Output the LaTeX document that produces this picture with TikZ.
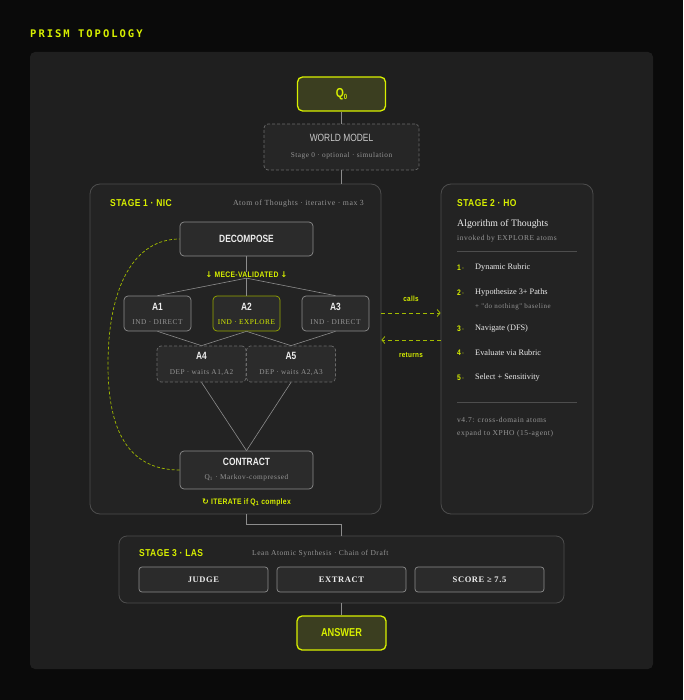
\documentclass[tikz,border=0pt]{standalone}
\usepackage{fontspec}
\setmainfont{Liberation Serif}
\newfontfamily\condfont[FakeStretch=0.8]{Liberation Sans}
\newfontfamily\headfont[FakeStretch=0.85,LetterSpace=4]{Liberation Sans}
\newfontfamily\titlefont[LetterSpace=19]{DejaVu Sans Mono}
\newfontfamily\spacedfont[LetterSpace=7]{Liberation Serif}
\newfontfamily\symbolfont{DejaVu Sans}
\usetikzlibrary{arrows.meta}

\definecolor{bgblack}{HTML}{0A0A0A}
\definecolor{panel}{HTML}{1F1F1F}
\definecolor{stagefill}{HTML}{232323}
\definecolor{stageline}{HTML}{4D4D4D}
\definecolor{boxfill}{HTML}{2B2B2B}
\definecolor{worldfill}{HTML}{262626}
\definecolor{boxline}{HTML}{8C8C8C}
\definecolor{dimline}{HTML}{6A6A6A}
\definecolor{acid}{HTML}{D8F000}
\definecolor{olive}{HTML}{3B3E20}
\definecolor{loopyellow}{HTML}{A3BC00}
\definecolor{textgray}{HTML}{959595}
\definecolor{textwhite}{HTML}{EDEDED}

\newcommand\boxtitle{\condfont\bfseries\fontsize{10.5}{12}\selectfont\color{textwhite}}
\newcommand\atomsub{\spacedfont\fontsize{7.3}{8}\selectfont\color{textgray}}

\begin{document}
\begin{tikzpicture}[x=1pt,y=-1pt,
    every node/.style={inner sep=0pt},
    box/.style={draw=boxline, fill=boxfill, rounded corners=4pt, line width=0.7pt, align=center},
    dashbox/.style={box, draw=dimline, dash pattern=on 3pt off 2pt},
    stage/.style={draw=stageline, fill=stagefill, rounded corners=10pt, line width=0.8pt},
    endbox/.style={draw=acid, fill=olive, rounded corners=5pt, line width=1.3pt, text=acid,
      font=\condfont\bfseries\fontsize{13}{13}\selectfont},
    stagehead/.style={anchor=west, text=acid, font=\headfont\bfseries\fontsize{10}{10}\selectfont},
    note/.style={text=textgray, font=\spacedfont\fontsize{7.5}{8}\selectfont},
    acidtext/.style={text=acid, font=\headfont\bfseries\fontsize{8}{9}\selectfont},
    itemtext/.style={anchor=west, text=textwhite, font=\fontsize{8.3}{9}\selectfont},
    button/.style={draw=boxline, fill=boxfill, rounded corners=3pt, line width=0.7pt,
      minimum width=129, minimum height=25, text=textwhite,
      font=\spacedfont\bfseries\fontsize{8.5}{9}\selectfont},
    wire/.style={draw=boxline, line width=0.6pt},
    iterloop/.style={draw=loopyellow, line width=0.7pt, dash pattern=on 3pt off 2pt},
    callwire/.style={draw=loopyellow, line width=0.8pt, dash pattern=on 4pt off 3pt,
      -{Straight Barb[length=3pt,width=7pt]}}]

  \useasboundingbox (0,0) rectangle (683,700);
  \fill[bgblack] (0,0) rectangle (683,700);
  \fill[panel, rounded corners=5pt] (30,52) rectangle (653,669);

  \node[anchor=west, text=acid] (title) at (30,34)
    {\titlefont\bfseries\fontsize{10.5}{11}\selectfont PRISM TOPOLOGY};

  % stage frames
  \node[stage, minimum width=291, minimum height=330] (stageone) at (235.5,349) {};
  \node[stage, minimum width=152, minimum height=330] (stagetwo) at (517,349) {};
  \node[stage, rounded corners=8pt, minimum width=445, minimum height=67] (stagethree) at (341.5,569.5) {};

  % input and world model
  \node[endbox, minimum width=88, minimum height=34] (qzero) at (341.5,94)
    {Q\raisebox{-2.5pt}{\fontsize{7.5}{7.5}\selectfont 0}};
  \node[dashbox, fill=worldfill, minimum width=155, minimum height=46] (world) at (341.5,147)
    {{\boxtitle\mdseries\color{textwhite!85!black} WORLD MODEL}\\[4pt]{\atomsub Stage 0 · optional · simulation}};
  \draw[wire] (qzero) -- (world);
  \draw[wire] (world.south) -- (world.south |- stageone.north);

  % stage 1
  \node[stagehead] (stageonehead) at (110,203) {STAGE 1 · NIC};
  \node[note, anchor=east, font=\spacedfont\fontsize{7.8}{8}\selectfont] (stageonenote) at (364,204)
    {Atom of Thoughts · iterative · max 3};
  \node[box, minimum width=133, minimum height=34] (decompose) at (246.5,239) {\boxtitle DECOMPOSE};
  \node[acidtext] (mece) at (246.5,275) {{\symbolfont↓} MECE-VALIDATED {\symbolfont↓}};
  \foreach \n/\x/\t/\s in {aone/157.5/A1/{IND · DIRECT}, athree/335.5/A3/{IND · DIRECT}}
    \node[box, minimum width=67, minimum height=35] (\n) at (\x,313.5)
      {{\boxtitle \t}\\[2pt]{\atomsub \s}};
  \node[box, draw=acid!70!black, minimum width=67, minimum height=35] (atwo) at (246.5,313.5)
    {{\boxtitle A2}\\[2pt]{\atomsub\color{acid} IND · EXPLORE}};
  \foreach \n/\x/\t/\s in {afour/201.5/A4/{DEP · waits A1,A2}, afive/291/A5/{DEP · waits A2,A3}}
    \node[dashbox, minimum width=89, minimum height=36] (\n) at (\x,364)
      {{\boxtitle \t}\\[3pt]{\atomsub \s}};
  \node[box, minimum width=133, minimum height=38] (contract) at (246.5,470)
    {{\boxtitle CONTRACT}\\[2pt]{\atomsub Q\textsubscript{1} · Markov-compressed}};
  \node[acidtext] (iterate) at (246.5,502) {{\symbolfont↻} ITERATE if Q\textsubscript{1} complex};

  \draw[wire] (decompose) -- (mece);
  \foreach \n in {aone,atwo,athree} \draw[wire] (mece.south) -- (\n.north);
  \draw[wire] (aone.south) -- (afour.north);
  \draw[wire] (atwo.south) -- (afour.north);
  \draw[wire] (atwo.south) -- (afive.north);
  \draw[wire] (athree.south) -- (afive.north);
  \draw[wire] (afour.south) -- (contract.north);
  \draw[wire] (afive.south) -- (contract.north);
  \draw[iterloop] (contract.west) .. controls (128,470) and (108,430) .. (108,365)
    .. controls (108,285) and (135,239) .. (decompose.west);

  % calls / returns
  \draw[callwire] ([yshift=36pt]stageone.east) -- ([yshift=36pt]stagetwo.west);
  \draw[callwire] ([yshift=9pt]stagetwo.west) -- ([yshift=9pt]stageone.east);
  \node[acidtext, font=\headfont\bfseries\fontsize{7.5}{8}\selectfont] (callslabel) at (411,299) {calls};
  \node[acidtext, font=\headfont\bfseries\fontsize{7.5}{8}\selectfont] (returnslabel) at (411,355) {returns};

  % stage 2
  \node[stagehead] (stagetwohead) at (457,203) {STAGE 2 · HO};
  \node[itemtext, font=\fontsize{9.8}{10}\selectfont] (aot) at (457,224) {Algorithm of Thoughts};
  \node[note, anchor=west] (invoked) at (457,239) {invoked by EXPLORE atoms};
  \draw[stageline, line width=0.6pt] (457,251) -- (577,251);
  \foreach \i/\y/\t in {1/268/Dynamic Rubric, 2/293/Hypothesize 3+ Paths, 3/329/Navigate (DFS),
      4/353/Evaluate via Rubric, 5/378/Select + Sensitivity} {
    \node[acidtext, anchor=west] (num\i) at (457,\y) {\i\,{\fontsize{6}{6}\selectfont·}};
    \node[itemtext] (item\i) at (475,\y) {\t};
  }
  \node[note, anchor=west, font=\spacedfont\fontsize{7}{8}\selectfont] (itemtwonote) at (475,307)
    {+ "do nothing" baseline};
  \draw[stageline, line width=0.6pt] (457,402) -- (577,402);
  \node[note, anchor=west] (crossa) at (457,420) {v4.7: cross-domain atoms};
  \node[note, anchor=west] (crossb) at (457,434) {expand to XPHO (15-agent)};

  % stage 3
  \draw[wire] (contract.south |- stageone.south) -- ++(0,10) -| (stagethree.north);
  \node[stagehead] (stagethreehead) at (139,553) {STAGE 3 · LAS};
  \node[note, anchor=west] (lean) at (252,554) {Lean Atomic Synthesis · Chain of Draft};
  \foreach \n/\x/\t in {judge/203.5/JUDGE, extract/341.5/EXTRACT, score/479.5/{SCORE ≥ 7.5}}
    \node[button] (\n) at (\x,579.5) {\t};

  % output
  \node[endbox, minimum width=89, minimum height=34, font=\condfont\bfseries\fontsize{11.5}{12}\selectfont] (answer) at (341.5,633) {ANSWER};
  \draw[wire] (stagethree.south) -- (answer.north);
\end{tikzpicture}
\end{document}
